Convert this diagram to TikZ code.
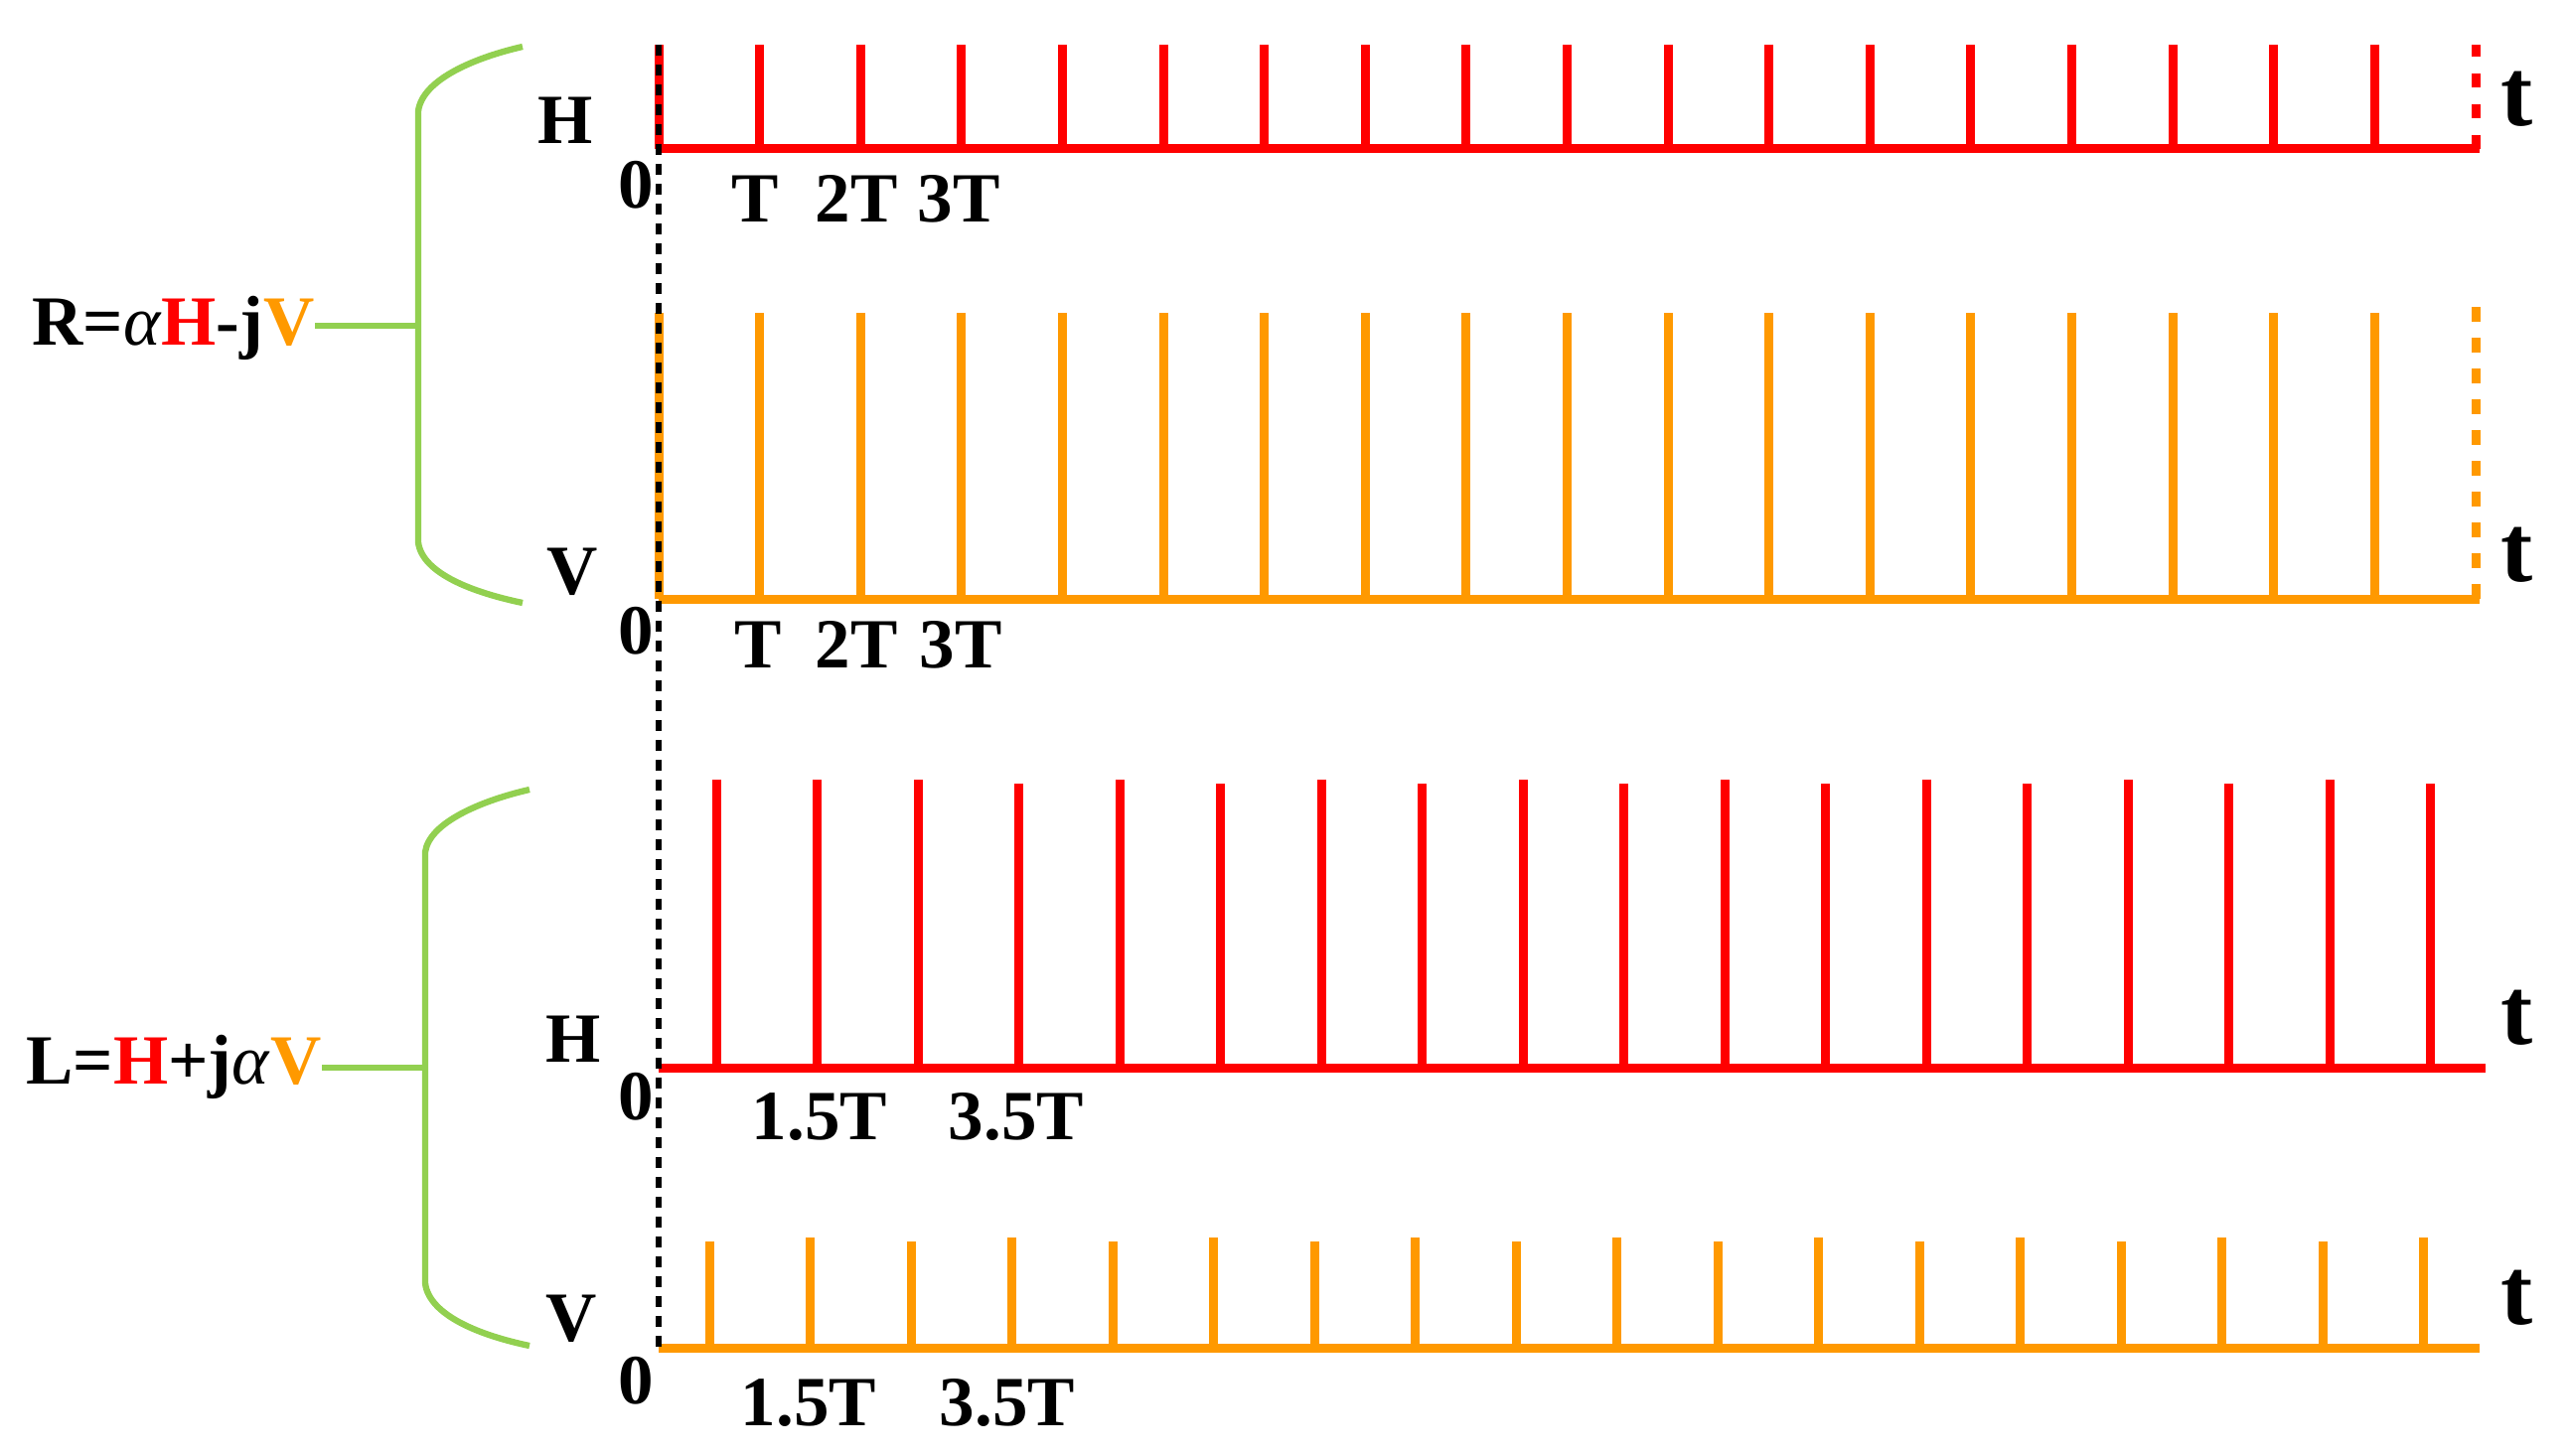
\documentclass[tikz,border=0pt]{standalone}
\usepackage{fontspec}
\setmainfont{Liberation Serif}
\definecolor{sred}{RGB}{255,0,0}
\definecolor{sorange}{RGB}{255,153,0}
\definecolor{sgreen}{RGB}{146,208,80}
\begin{document}
\begin{tikzpicture}[x=0.3pt,y=-0.3pt,
  lbl/.style={font=\fontsize{21.3}{24}\selectfont\bfseries, inner sep=0, anchor=base},
  tlbl/.style={font=\fontsize{29}{32}\selectfont\bfseries, inner sep=0, anchor=base},
  formula/.style={font=\fontsize{21.3}{24}\selectfont\bfseries, inner sep=0, anchor=base east},
  redline/.style={draw=sred, line width=2.7pt},
  orgline/.style={draw=sorange, line width=2.7pt},
  bracestyle/.style={draw=sgreen, line width=1.9pt},
  zeroline/.style={draw=black, line width=1.6pt, dash pattern=on 3.3pt off 2.7pt},
  endred/.style={draw=sred, line width=2.7pt, dash pattern=on 4.2pt off 5.1pt},
  endorg/.style={draw=sorange, line width=2.7pt, dash pattern=on 4.6pt off 4.7pt}
]
\useasboundingbox (0,0) rectangle (2587,1466);

% ---------------- top group: R ----------------
% red H train
\draw[redline] (663,150) -- (2496,150);
\foreach \k in {0,...,17} \draw[redline] ({663+\k*101.6},150) -- ({663+\k*101.6},45);
\draw[endred] (2492,150) -- (2492,45);
% orange V train
\draw[orgline] (663,603) -- (2496,603);
\foreach \k in {0,...,17} \draw[orgline] ({663+\k*101.6},603) -- ({663+\k*101.6},315);
\draw[endorg] (2492,603) -- (2492,308);

% ---------------- bottom group: L ----------------
\draw[redline] (663,1075) -- (2502,1075);
\foreach \k in {0,...,17} {
  \pgfmathsetmacro{\tp}{(\k>2 && mod(\k,2)==1) ? 789 : 785}
  \draw[redline] ({721+\k*101.5},1075) -- ({721+\k*101.5},\tp);
}
\draw[orgline] (663,1357) -- (2496,1357);
\foreach \k in {0,...,17} {
  \pgfmathsetmacro{\tp}{(mod(\k,2)==1) ? 1246 : 1250}
  \draw[orgline] ({714+\k*101.5},1357) -- ({714+\k*101.5},\tp);
}

% common zero line
\coordinate (ztop) at (663,45);
\coordinate (zbot) at (663,1357);
\draw[zeroline] (ztop) -- (zbot);

% ---------------- braces ----------------
\draw[bracestyle] (526,47) .. controls (478,58) and (425,80) .. (421,112)
  -- (421,546) .. controls (425,578) and (478,597) .. (526,607);
\coordinate (bR) at (421,328);
\draw[bracestyle] (533,795) .. controls (485,806) and (432,828) .. (428,858)
  -- (428,1292) .. controls (432,1325) and (485,1345) .. (533,1355);
\coordinate (bL) at (428,1075);

% formulas
\node[formula] (fR) at (317,348) {R=\textmd{\textit{α}}{\color{sred}H}-j{\color{sorange}V}};
\node[formula] (fL) at (324,1091) {L={\color{sred}H}+j\textmd{\textit{α}}{\color{sorange}V}};
\draw[bracestyle] (fR.east |- bR) -- (bR);
\draw[bracestyle] (fL.east |- bL) -- (bL);

% axis names
\node[lbl] (h1) at (569,145) {H};
\node[lbl] (v1) at (576,598) {V};
\node[lbl] (h2) at (577,1069) {H};
\node[lbl] (v2) at (575,1350) {V};

% t labels
\node[tlbl] (t1) at (2534,127) {t};
\node[tlbl] (t2) at (2534,585) {t};
\node[tlbl] (t3) at (2534,1051) {t};
\node[tlbl] (t4) at (2534,1333) {t};

% zeros
\node[lbl] (z1) at (640,210) {0};
\node[lbl] (z2) at (640,658) {0};
\node[lbl] (z3) at (640,1127) {0};
\node[lbl] (z4) at (640,1413) {0};

% tick labels
\node[lbl] (a1) at (760,223) {T};
\node[lbl] (a2) at (862,223) {2T};
\node[lbl] (a3) at (965,223) {3T};
\node[lbl] (b1) at (763,672) {T};
\node[lbl] (b2) at (862,672) {2T};
\node[lbl] (b3) at (967,672) {3T};
\node[lbl] (c1) at (825,1147) {1.5T};
\node[lbl] (c2) at (1023,1147) {3.5T};
\node[lbl] (d1) at (814,1435) {1.5T};
\node[lbl] (d2) at (1014,1435) {3.5T};
\end{tikzpicture}
\end{document}
